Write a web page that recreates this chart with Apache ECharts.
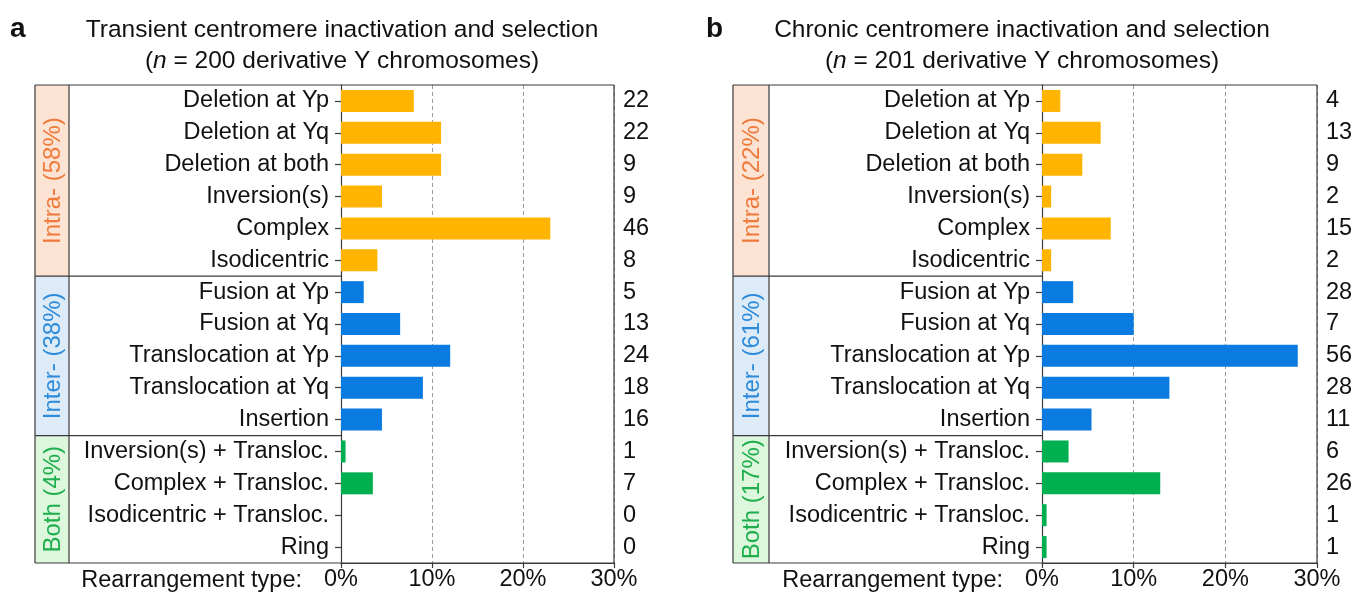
<!DOCTYPE html>
<html><head><meta charset="utf-8">
<script src="https://cdn.jsdelivr.net/npm/echarts@6/dist/echarts.min.js"></script>
<style>html,body{margin:0;padding:0;background:#fff}#c{width:1356px;height:593px}</style>
</head><body><div id="c"></div>
<script>
// ---------- data ----------
const categories = ['Deletion at Yp','Deletion at Yq','Deletion at both','Inversion(s)','Complex','Isodicentric',
  'Fusion at Yp','Fusion at Yq','Translocation at Yp','Translocation at Yq','Insertion',
  'Inversion(s) + Transloc.','Complex + Transloc.','Isodicentric + Transloc.','Ring'];
const groupNames = ['Intra-','Inter-','Both'];
const groupSizes = [6,5,4];
const transientPct = [8,11,11,4.5,23,4,2.5,6.5,12,9,4.5,0.5,3.5,0,0];
const transientCounts = [22,22,9,9,46,8,5,13,24,18,16,1,7,0,0];
const transientGroupPct = [58,38,4];
const chronicPct = [2,6.4,4.4,1,7.5,1,3.4,10,27.9,13.9,5.4,2.9,12.9,0.5,0.5];
const chronicCounts = [4,13,9,2,15,2,28,7,56,28,11,6,26,1,1];
const chronicGroupPct = [22,61,17];
const xTicks = [0,10,20,30];
const panelLetters = ['a','b'];
const titles1 = ['Transient centromere inactivation and selection','Chronic centromere inactivation and selection'];
const nValues = [200,201];

// ---------- styles ----------
const FONT = '"Liberation Sans", Arial, sans-serif';
const FS = 23.5;
const barColors = ['#FFB400','#0A7BE0','#00B050'];
const stripFills = ['#FCE3D4','#DDEBF9','#DDF7DD'];
const stripText = ['#EE7A3B','#2E8BD9','#1FAE4E'];
const LINE = '#3a3a3a';
const TOP = 85, BOTTOM = 563;
const panels = [
  {boxLeft:35, stripRight:69, axisX:341, right:614, pct:transientPct, counts:transientCounts, gpct:transientGroupPct, titleX:342, letterX:10, rtX:302},
  {boxLeft:733, stripRight:769, axisX:1042, right:1317, pct:chronicPct, counts:chronicCounts, gpct:chronicGroupPct, titleX:1022, letterX:706, rtX:1003}
];

const rowH = (BOTTOM - TOP) / categories.length;
const groupOf = [];
groupSizes.forEach((s,g)=>{for(let i=0;i<s;i++) groupOf.push(g);});

const grids=[], xAxes=[], yAxes=[], series=[], graphics=[];
panels.forEach((p,pi)=>{
  grids.push({left:p.axisX, right:1356-p.right, top:TOP, bottom:593-BOTTOM, containLabel:false});
  xAxes.push({gridIndex:pi, type:'value', min:xTicks[0], max:xTicks[xTicks.length-1], interval:xTicks[1]-xTicks[0],
    axisLine:{show:true, lineStyle:{color:LINE, width:1.2}},
    axisTick:{show:true, length:5, lineStyle:{color:LINE, width:1.2}},
    axisLabel:{formatter:v=>v+'%', fontFamily:FONT, fontSize:FS, color:'#111', margin:5},
    splitLine:{show:true, lineStyle:{type:[4,3], color:'#9a9a9a', width:1}}
  });
  yAxes.push({gridIndex:pi, type:'category', inverse:true, data:categories,
    axisLine:{show:true, lineStyle:{color:LINE, width:1.2}},
    axisTick:{show:true, alignWithLabel:true, length:6, lineStyle:{color:LINE, width:1.2}},
    axisLabel:{fontFamily:FONT, fontSize:FS, color:'#111', margin:12},
    splitLine:{show:false}
  });
  yAxes.push({gridIndex:pi, type:'category', inverse:true, position:'right', data:categories,
    axisLine:{show:false}, axisTick:{show:false},
    axisLabel:{fontFamily:FONT, fontSize:FS, color:'#111', margin:9, formatter:(v,i)=>String(p.counts[i])},
    splitLine:{show:false}
  });
  series.push({type:'bar', xAxisIndex:pi, yAxisIndex:pi*2, barWidth:22, silent:true,
    data:p.pct.map((v,i)=>({value:v, itemStyle:{color:barColors[groupOf[i]]}}))});

  // strips
  let start=0;
  groupSizes.forEach((s,g)=>{
    const y0 = TOP + start*rowH, h = s*rowH;
    graphics.push({type:'rect', shape:{x:p.boxLeft, y:y0, width:p.stripRight-p.boxLeft, height:h}, style:{fill:stripFills[g]}, z:1});
    graphics.push({type:'text', x:(p.boxLeft+p.stripRight)/2+1, y:y0+h/2, rotation:Math.PI/2,
      style:{text:groupNames[g]+' ('+p.gpct[g]+'%)', fill:stripText[g], font:'24px '+FONT, textAlign:'center', textVerticalAlign:'middle'}, z:5});
    if(start>0) graphics.push({type:'line', shape:{x1:p.boxLeft, y1:y0, x2:p.axisX, y2:y0}, style:{stroke:LINE, lineWidth:1.2}, z:6});
    start+=s;
  });
  // box lines
  const ln=(x1,y1,x2,y2)=>graphics.push({type:'line', shape:{x1,y1,x2,y2}, style:{stroke:LINE, lineWidth:1.2}, z:6});
  ln(p.boxLeft, TOP, p.right, TOP);
  ln(p.boxLeft, BOTTOM, p.right, BOTTOM);
  ln(p.boxLeft, TOP, p.boxLeft, BOTTOM);
  ln(p.stripRight, TOP, p.stripRight, BOTTOM);
  ln(p.right, TOP, p.right, BOTTOM);
  // letters & titles
  graphics.push({type:'text', x:p.letterX, y:29, style:{text:panelLetters[pi], font:'bold 28px '+FONT, fill:'#111', textVerticalAlign:'middle'}});
  graphics.push({type:'text', x:p.titleX, y:30, style:{text:titles1[pi], font:'24.5px '+FONT, fill:'#111', textAlign:'center', textVerticalAlign:'middle'}});
  graphics.push({type:'text', x:p.titleX, y:61, style:{
    text:'({i|n} = '+nValues[pi]+' derivative Y chromosomes)', font:'24.5px '+FONT, fill:'#111', textAlign:'center', textVerticalAlign:'middle',
    rich:{i:{fontStyle:'italic', fontSize:24.5, fontFamily:FONT, fill:'#111'}}}});
  graphics.push({type:'text', x:p.rtX, y:581, style:{text:'Rearrangement type:', font:FS+'px '+FONT, fill:'#111', textAlign:'right', textVerticalAlign:'middle'}});
});

const chart = echarts.init(document.getElementById('c'), null, {renderer:'canvas'});
chart.setOption({
  animation:false,
  backgroundColor:'#fff',
  grid:grids, xAxis:xAxes, yAxis:yAxes, series:series,
  graphic:graphics
});
</script></body></html>
